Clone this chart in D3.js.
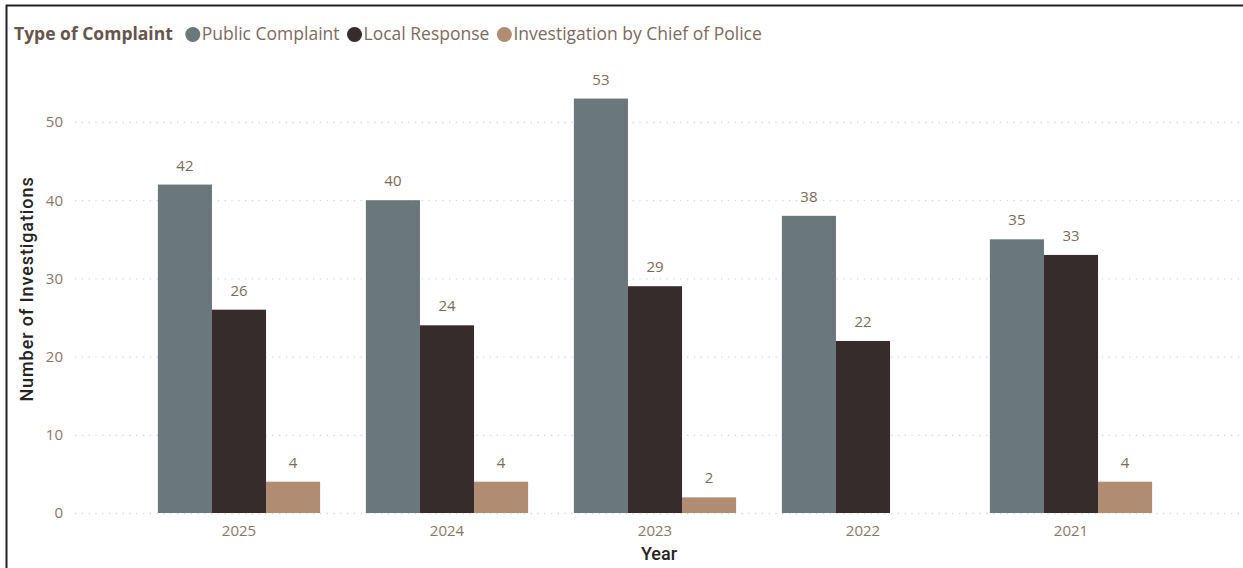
<!DOCTYPE html>
<html>
<head>
<meta charset="utf-8">
<script src="https://cdn.jsdelivr.net/npm/d3@7"></script>
<style>
  html, body { margin: 0; padding: 0; background: #fff; }
  svg { display: block; }
</style>
</head>
<body>
<svg id="chart" width="1243" height="568"></svg>
<script>
// Investigations by year, split by type of complaint
const years = ["2025", "2024", "2023", "2022", "2021"];
const seriesNames = ["Public Complaint", "Local Response", "Investigation by Chief of Police"];
const publicComplaint = [42, 40, 53, 38, 35];
const localResponse = [26, 24, 29, 22, 33];
const chiefInvestigation = [4, 4, 2, null, 4];
const yTicks = [0, 10, 20, 30, 40, 50];
const colors = ["#6a777b", "#362c2b", "#b08c72"];

const seriesValues = [publicComplaint, localResponse, chiefInvestigation];
const rows = years.map((y, i) => ({
  year: y,
  values: seriesNames.map((s, k) => ({ key: s, value: seriesValues[k][i], k }))
}));

const svg = d3.select("#chart");
const W = 1243, H = 568;
const font = "'Open Sans', 'Noto Sans', sans-serif";

// frame lines (top and left)
svg.append("line").attr("x1", 6).attr("x2", W).attr("y1", 5.5).attr("y2", 5.5)
  .attr("stroke", "#222").attr("stroke-width", 2);
svg.append("line").attr("x1", 6.5).attr("x2", 6.5).attr("y1", 5).attr("y2", H)
  .attr("stroke", "#222").attr("stroke-width", 2);

// scales
const y = d3.scaleLinear().domain([0, 50]).range([513, 122]);
const x0 = d3.scaleBand().domain(years).range([135, 1175])
  .paddingInner(0.22).paddingOuter(0.11);
const x1 = d3.scaleBand().domain(seriesNames).range([0, x0.bandwidth()]).padding(0);

// gridlines + y tick labels
const yAxis = d3.axisLeft(y).tickValues(yTicks).tickSize(-(W - 75)).tickPadding(12);
const gy = svg.append("g").attr("transform", "translate(75,0)").call(yAxis);
gy.select(".domain").remove();
gy.selectAll(".tick line").attr("stroke", "#d6d6d6").attr("stroke-width", 1.3)
  .attr("stroke-dasharray", "1.3,5.5");
gy.selectAll(".tick text").attr("fill", "#8a7668").style("font-family", font)
  .style("font-size", "15px");

// x tick labels
const xAxis = d3.axisBottom(x0).tickSize(0).tickPadding(12);
const gx = svg.append("g").attr("transform", "translate(0,513)").call(xAxis);
gx.select(".domain").remove();
gx.selectAll(".tick text").attr("fill", "#8a7668").style("font-family", font)
  .style("font-size", "15px");

// bars
const groups = svg.append("g").selectAll("g").data(rows).join("g")
  .attr("transform", d => `translate(${x0(d.year)},0)`);

groups.selectAll("rect").data(d => d.values.filter(v => v.value != null)).join("rect")
  .attr("x", d => x1(d.key))
  .attr("y", d => y(d.value))
  .attr("width", x1.bandwidth())
  .attr("height", d => y(0) - y(d.value))
  .attr("fill", d => colors[d.k]);

groups.selectAll("text.val").data(d => d.values.filter(v => v.value != null)).join("text")
  .attr("class", "val")
  .attr("x", d => x1(d.key) + x1.bandwidth() / 2)
  .attr("y", d => y(d.value) - 14)
  .attr("text-anchor", "middle")
  .attr("fill", "#7d6a5e")
  .style("font-family", font)
  .style("font-size", "15px")
  .text(d => d.value);

// axis titles
svg.append("text")
  .attr("transform", "translate(33,289) rotate(-90)")
  .attr("text-anchor", "middle")
  .attr("fill", "#252423")
  .style("font-family", "'Roboto', sans-serif")
  .style("font-size", "18px")
  .style("font-weight", "500")
  .style("letter-spacing", "0.9px")
  .text("Number of Investigations");

svg.append("text")
  .attr("x", 659).attr("y", 560)
  .attr("text-anchor", "middle")
  .attr("fill", "#252423")
  .style("font-family", "'Roboto', sans-serif")
  .style("font-size", "18px")
  .style("font-weight", "500")
  .text("Year");

// legend
const legend = svg.append("g").attr("transform", "translate(14,34)");
const legTitle = legend.append("text")
  .attr("x", 0).attr("y", 6)
  .attr("fill", "#66554a")
  .style("font-family", font)
  .style("font-size", "17.5px")
  .style("font-weight", "700")
  .text("Type of Complaint");

let lx = legTitle.node().getComputedTextLength() + 12;
seriesNames.forEach((s, k) => {
  legend.append("circle").attr("cx", lx + 8).attr("cy", 0.5).attr("r", 7.5).attr("fill", colors[k]);
  const t = legend.append("text")
    .attr("x", lx + 17).attr("y", 6)
    .attr("fill", "#7d6a5e")
    .style("font-family", font)
    .style("font-size", "17.5px")
    .text(s);
  lx += 17 + t.node().getComputedTextLength() + 7;
});
</script>
</body>
</html>
